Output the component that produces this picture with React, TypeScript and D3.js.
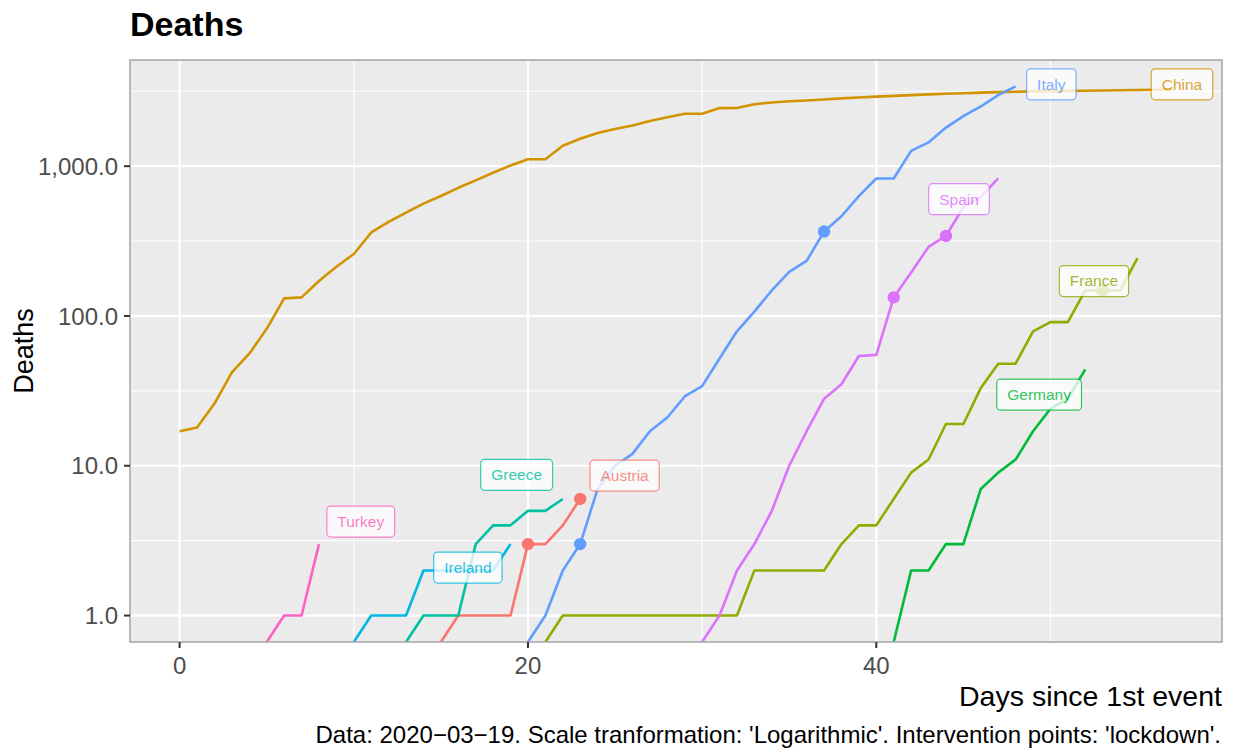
import React, { useEffect, useRef } from 'react';
import * as d3 from 'd3';

// countries in legend (factor) order, with ggplot hue colours
const countries = ['Austria', 'China', 'France', 'Germany', 'Greece', 'Ireland', 'Italy', 'Spain', 'Turkey'];
const colors = ['#F8766D', '#D39200', '#93AA00', '#00BA38', '#00C19F', '#00B9E3', '#619CFF', '#DB72FB', '#FF61C3'];

// first day shown for each country (days since 1st event)
const startDays = [15, 0, 21, 41, 13, 10, 20, 30, 5];

// cumulative deaths, one value per day from startDay
const austria = [0, 1, 1, 1, 1, 3, 3, 4, 6];
const china = [17, 18, 26, 42, 56, 82, 131, 133, 171, 213, 259, 361, 425, 490, 562, 632, 717, 804, 904, 1011,
  1112, 1113, 1367, 1523, 1665, 1770, 1868, 2004, 2118, 2236, 2236, 2441, 2443, 2593, 2663, 2715, 2744, 2788,
  2835, 2870, 2912, 2945, 2981, 3013, 3042, 3070, 3097, 3119, 3136, 3158, 3169, 3176, 3189, 3199, 3213, 3226,
  3237, 3245];
const france = [0, 1, 1, 1, 1, 1, 1, 1, 1, 1, 1, 1, 2, 2, 2, 2, 2, 3, 4, 4, 6, 9, 11, 19, 19, 33, 48, 48, 79, 91,
  91, 148, 148, 148, 243];
const germany = [0, 2, 2, 3, 3, 7, 9, 11, 17, 24, 28, 44];
const greece = [0, 1, 1, 1, 3, 4, 4, 5, 5, 6];
const ireland = [0, 1, 1, 1, 2, 2, 2, 2, 2, 3];
const italy = [0, 1, 2, 3, 7, 10, 12, 17, 21, 29, 34, 52, 79, 107, 148, 197, 233, 366, 463, 631, 827, 827, 1266,
  1441, 1809, 2158, 2503, 2978, 3405];
const spain = [0, 1, 2, 3, 5, 10, 17, 28, 35, 54, 55, 133, 195, 289, 342, 533, 623, 830];
const turkey = [0, 1, 1, 3];
const deaths = [austria, china, france, germany, greece, ireland, italy, spain, turkey];

// intervention points ('lockdown')
const pointCountries = ['Austria', 'Austria', 'Italy', 'Italy', 'Spain', 'Spain', 'France'];
const pointDays = [20, 23, 23, 37, 41, 44, 53];

// repelled label centres, in data units
const labelDays = [25.55, 57.55, 52.5, 49.35, 19.35, 16.55, 50.05, 44.75, 10.4];
const labelDeaths = [8.6, 3520, 171, 29.8, 8.7, 2.09, 3520, 602, 4.24];

const xTicks = [0, 20, 40];
const xMinor = [10, 30, 50];
const yTicks = [1, 10, 100, 1000];

const FONT = '"Liberation Sans", Arial, Helvetica, sans-serif';

function App() {
  const ref = useRef<SVGSVGElement | null>(null);

  useEffect(() => {
    document.body.style.margin = '0';
    const svg = d3.select(ref.current);
    svg.selectAll('*').remove();

    const left = 130, right = 1222, top = 60, bottom = 642;

    // 5% expansion like ggplot
    const xMax = d3.max(countries.map((c, i) => startDays[i] + deaths[i].length - 1)) as number;
    const xPad = xMax * 0.05;
    const x = d3.scaleLinear().domain([-xPad, xMax + xPad]).range([left, right]);

    const yMaxLog = Math.log10(d3.max(deaths.map((d) => d3.max(d) as number)) as number);
    const yPad = yMaxLog * 0.05;
    const y = d3.scaleLog().domain([Math.pow(10, -yPad), Math.pow(10, yMaxLog + yPad)]).range([bottom, top]);
    const yv = (v: number) => (v > 0 ? y(v) : bottom); // zeros sit on the panel edge

    const yMinor = d3.range(-0.5, yMaxLog + yPad, 1).map((e) => Math.pow(10, e)).filter((v) => y(v) >= top && y(v) <= bottom);

    svg.append('defs').append('clipPath').attr('id', 'panel')
      .append('rect').attr('x', left).attr('y', top).attr('width', right - left).attr('height', bottom - top);

    // panel
    svg.append('rect').attr('x', left).attr('y', top).attr('width', right - left).attr('height', bottom - top)
      .attr('fill', '#EBEBEB');

    const grid = svg.append('g').attr('clip-path', 'url(#panel)');
    grid.selectAll('.ymin').data(yMinor).enter().append('line')
      .attr('x1', left).attr('x2', right).attr('y1', (d) => y(d)).attr('y2', (d) => y(d))
      .attr('stroke', '#fff').attr('stroke-width', 1.1);
    grid.selectAll('.xmin').data(xMinor).enter().append('line')
      .attr('y1', top).attr('y2', bottom).attr('x1', (d) => x(d)).attr('x2', (d) => x(d))
      .attr('stroke', '#fff').attr('stroke-width', 1.1);
    grid.selectAll('.ymaj').data(yTicks).enter().append('line')
      .attr('x1', left).attr('x2', right).attr('y1', (d) => y(d)).attr('y2', (d) => y(d))
      .attr('stroke', '#fff').attr('stroke-width', 2.2);
    grid.selectAll('.xmaj').data(xTicks).enter().append('line')
      .attr('y1', top).attr('y2', bottom).attr('x1', (d) => x(d)).attr('x2', (d) => x(d))
      .attr('stroke', '#fff').attr('stroke-width', 2.2);

    // lines
    const plot = svg.append('g').attr('clip-path', 'url(#panel)');
    const line = d3.line<[number, number]>().x((d) => x(d[0])).y((d) => yv(d[1]));
    countries.forEach((c, ci) => {
      const pts = deaths[ci].map((v, k) => [startDays[ci] + k, v] as [number, number]);
      plot.append('path')
        .attr('d', line(pts))
        .attr('fill', 'none')
        .attr('stroke', colors[ci])
        .attr('stroke-width', 2.6)
        .attr('stroke-linejoin', 'round');
    });

    // intervention points
    pointCountries.forEach((c, i) => {
      const ci = countries.indexOf(c);
      const v = deaths[ci][pointDays[i] - startDays[ci]];
      plot.append('circle')
        .attr('cx', x(pointDays[i]))
        .attr('cy', yv(v))
        .attr('r', 6.2)
        .attr('fill', colors[ci]);
    });

    // labels
    const labels = svg.append('g').attr('font-family', FONT).attr('font-size', 15.5);
    countries.forEach((c, ci) => {
      const g = labels.append('g').attr('opacity', 0.78);
      const cx = x(labelDays[ci]);
      const cy = y(labelDeaths[ci]);
      const t = g.append('text')
        .attr('x', cx).attr('y', cy).attr('dy', '0.35em')
        .attr('text-anchor', 'middle').attr('fill', colors[ci]).text(c);
      const w = (t.node() as SVGTextElement).getComputedTextLength() + 21;
      g.insert('rect', 'text')
        .attr('x', cx - w / 2).attr('y', cy - 15.5).attr('width', w).attr('height', 31)
        .attr('rx', 4).attr('ry', 4)
        .attr('fill', '#fff').attr('stroke', colors[ci]).attr('stroke-width', 1.2);
    });

    // panel border
    svg.append('rect').attr('x', left).attr('y', top).attr('width', right - left).attr('height', bottom - top)
      .attr('fill', 'none').attr('stroke', '#A9A9A9').attr('stroke-width', 1.6);

    // axes
    const axes = svg.append('g').attr('font-family', FONT);
    axes.selectAll('.yt').data(yTicks).enter().append('line')
      .attr('x1', left - 6).attr('x2', left).attr('y1', (d) => y(d)).attr('y2', (d) => y(d))
      .attr('stroke', '#333').attr('stroke-width', 2);
    axes.selectAll('.yl').data(yTicks).enter().append('text')
      .attr('x', left - 12).attr('y', (d) => y(d)).attr('dy', '0.36em')
      .attr('text-anchor', 'end').attr('font-size', 24).attr('fill', '#4D4D4D')
      .text((d) => d3.format(',.1f')(d));
    axes.selectAll('.xt').data(xTicks).enter().append('line')
      .attr('y1', bottom).attr('y2', bottom + 6).attr('x1', (d) => x(d)).attr('x2', (d) => x(d))
      .attr('stroke', '#333').attr('stroke-width', 2);
    axes.selectAll('.xl').data(xTicks).enter().append('text')
      .attr('x', (d) => x(d)).attr('y', bottom + 32)
      .attr('text-anchor', 'middle').attr('font-size', 24).attr('fill', '#4D4D4D')
      .text((d) => d);

    axes.append('text').attr('x', right).attr('y', 706).attr('text-anchor', 'end')
      .attr('font-size', 28.5).attr('fill', '#000').text('Days since 1st event');
    axes.append('text').attr('transform', `translate(33,${(top + bottom) / 2}) rotate(-90)`)
      .attr('text-anchor', 'middle').attr('font-size', 27).attr('fill', '#000').text('Deaths');
    axes.append('text').attr('x', left).attr('y', 36)
      .attr('font-size', 34).attr('font-weight', 'bold').attr('fill', '#000').text('Deaths');
    axes.append('text').attr('x', right - 1).attr('y', 743).attr('text-anchor', 'end')
      .attr('font-size', 24).attr('fill', '#000')
      .text("Data: 2020\u221203\u221219. Scale tranformation: 'Logarithmic'. Intervention points: 'lockdown'.");
  }, []);

  return <svg ref={ref} width={1234} height={750} style={{ display: 'block' }} />;
}

export default App;
